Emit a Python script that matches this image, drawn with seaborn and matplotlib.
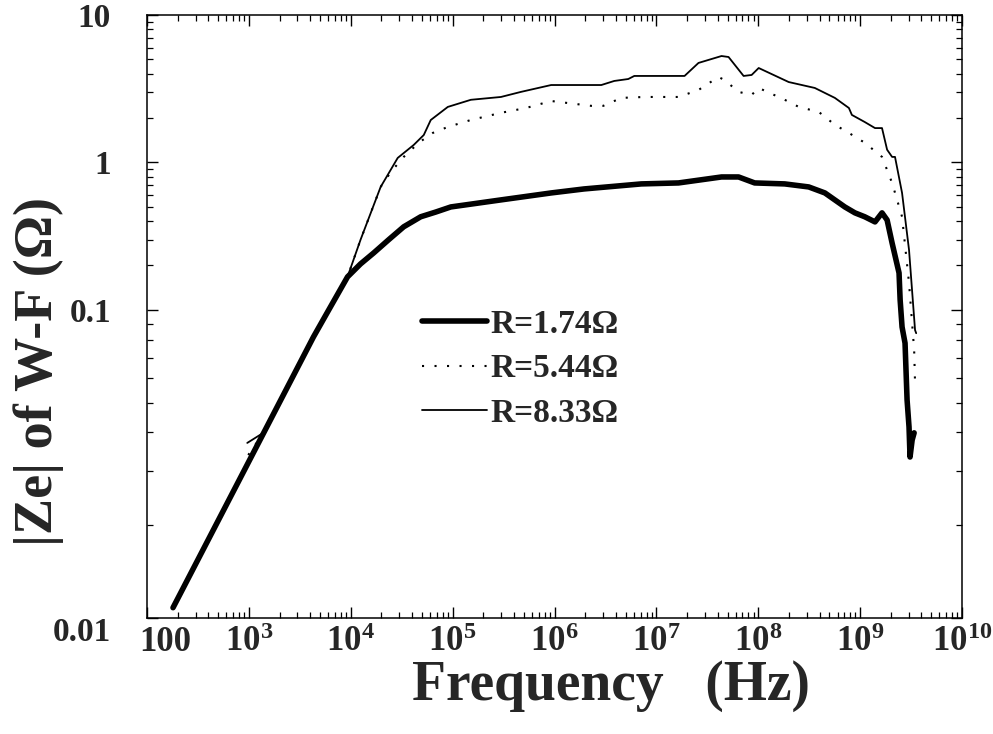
import numpy as np
import pandas as pd
import matplotlib
matplotlib.use("Agg")
import matplotlib.pyplot as plt
import matplotlib.ticker as mticker
import matplotlib.transforms as mtransforms
import seaborn as sns

# ---- data ----
freq_174 = [180, 4305, 6085, 9300, 12480, 16760, 23550, 33100, 48600, 68400, 96000, 2.98e5, 9.27e5,
            1.95e6, 7.11e6, 1.65e7, 4.36e7, 6.41e7, 9.22e7, 1.82e8, 3.13e8, 4.51e8, 7.08e8,
            8.89e8, 1.11e9, 1.40e9, 1.64e9, 1.84e9, 2.06e9, 2.41e9, 2.47e9, 2.58e9, 2.76e9,
            2.89e9, 3.02e9, 3.09e9, 3.24e9, 3.39e9]
z_174 = [0.0108, 0.0817, 0.1, 0.1675, 0.205, 0.243, 0.299, 0.366, 0.428, 0.461, 0.499, 0.557, 0.621,
         0.661, 0.715, 0.726, 0.797, 0.797, 0.726, 0.715, 0.682, 0.621, 0.499,
         0.455, 0.428, 0.395, 0.455, 0.407, 0.284, 0.178, 0.117, 0.088, 0.078,
         0.051, 0.0417, 0.0333, 0.0378, 0.0399]

freq_544 = [986, 1450, 4305, 6085, 9300, 12480, 19650, 24700, 33100, 46500,
            63800, 89700, 1.51e5, 2.98e5, 5.25e5, 9.27e5, 2.29e6, 3.01e6, 4.53e6, 7.62e6,
            1.65e7, 2.59e7, 4.07e7, 4.67e7, 6.41e7, 8.61e7, 1.01e8, 1.82e8, 2.50e8, 3.93e8,
            5.65e8, 7.76e8, 1.11e9, 1.64e9, 2.06e9, 2.58e9, 3.02e9, 3.39e9, 3.46e9]
z_544 = [0.0338, 0.0407, 0.0817, 0.1, 0.1675, 0.299, 0.682, 0.86, 1.09, 1.36,
         1.585, 1.74, 1.94, 2.17, 2.34, 2.61, 2.42, 2.42, 2.74, 2.78,
         2.78, 3.10, 3.80, 3.62, 3.01, 2.87, 3.20, 2.66, 2.38, 2.20,
         1.80, 1.585, 1.36, 1.09, 0.726, 0.428, 0.152, 0.0742, 0.058]

freq_833 = [964, 1387, 4305, 6085, 9300, 12480, 19650, 28900, 41500, 52100,
            61000, 89700, 1.51e5, 2.98e5, 4.69e5, 9.27e5, 2.88e6, 3.86e6, 5.30e6, 6.07e6,
            1.89e7, 2.59e7, 4.36e7, 5.11e7, 7.18e7, 8.61e7, 1.01e8, 1.99e8, 3.59e8, 5.65e8,
            7.76e8, 8.30e8, 1.11e9, 1.40e9, 1.64e9, 1.84e9, 2.06e9, 2.20e9, 2.58e9, 3.02e9,
            3.46e9, 3.55e9]
z_833 = [0.0370, 0.0399, 0.0817, 0.1, 0.1675, 0.299, 0.682, 1.073, 1.314, 1.535,
         1.94, 2.38, 2.66, 2.78, 3.01, 3.35, 3.35, 3.57, 3.68, 3.86,
         3.86, 4.73, 5.27, 5.19, 3.86, 3.92, 4.37, 3.51, 3.20, 2.74,
         2.34, 2.10, 1.88, 1.71, 1.71, 1.22, 1.09, 1.09, 0.621, 0.255,
         0.086, 0.084]

labels = ["R=1.74Ω", "R=5.44Ω", "R=8.33Ω"]
x_ticks = [1e2, 1e3, 1e4, 1e5, 1e6, 1e7, 1e8, 1e9, 1e10]
x_ticklabels = ["100", "$10^{3}$", "$10^{4}$", "$10^{5}$", "$10^{6}$",
                "$10^{7}$", "$10^{8}$", "$10^{9}$", "$10^{10}$"]
y_ticks = [0.01, 0.1, 1, 10]
y_ticklabels = ["0.01", "0.1", "1", "10"]

# ---- style ----
sns.set_theme(style="ticks")
plt.rcParams["font.family"] = ["Liberation Serif", "DejaVu Serif"]
plt.rcParams["font.weight"] = "bold"
plt.rcParams["mathtext.fontset"] = "custom"
plt.rcParams["mathtext.rm"] = "Liberation Serif:bold"
plt.rcParams["mathtext.it"] = "Liberation Serif:bold"
plt.rcParams["mathtext.bf"] = "Liberation Serif:bold"
plt.rcParams["mathtext.default"] = "rm"

fig = plt.figure(figsize=(9.93, 7.34), dpi=100)
ax = fig.add_axes([147 / 993, 1 - 618 / 734, 815 / 993, 603 / 734])

# y axis of the original: lowest decade drawn about twice as tall
K = 2.09


def fwd(y):
    t = np.log10(np.clip(np.asarray(y, dtype=float), 1e-300, None))
    return np.where(t >= -1, t, -1 + K * (t + 1))


def inv(u):
    u = np.asarray(u, dtype=float)
    return np.where(u >= -1, 10.0 ** u, 10.0 ** (-1 + (u + 1) / K))


df174 = pd.DataFrame({"f": freq_174, "z": z_174})
df544 = pd.DataFrame({"f": freq_544, "z": z_544})
df833 = pd.DataFrame({"f": freq_833, "z": z_833})

sns.lineplot(data=df544, x="f", y="z", ax=ax, color="black", lw=1.5,
             linestyle=(0, (1, 5)), sort=False, estimator=None, label=labels[1])
sns.lineplot(data=df833, x="f", y="z", ax=ax, color="black", lw=1.3,
             sort=False, estimator=None, label=labels[2])
sns.lineplot(data=df174, x="f", y="z", ax=ax, color="black", lw=4.0,
             sort=False, estimator=None, label=labels[0],
             solid_capstyle="round", solid_joinstyle="round")

ax.set_xscale("log")
ax.set_yscale("function", functions=(fwd, inv))
ax.set_xlim(1e2, 1e10)
ax.set_ylim(0.01, 10)

ax.xaxis.set_major_locator(mticker.FixedLocator(x_ticks))
ax.xaxis.set_major_formatter(mticker.FixedFormatter(x_ticklabels))
ax.xaxis.set_minor_locator(mticker.LogLocator(base=10, subs=np.arange(2, 10), numticks=50))
ax.xaxis.set_minor_formatter(mticker.NullFormatter())

minor_y = [k * 10.0 ** e for e in (-2, -1, 0) for k in range(2, 10)]
ax.yaxis.set_major_locator(mticker.FixedLocator(y_ticks))
ax.yaxis.set_major_formatter(mticker.FixedFormatter(y_ticklabels))
ax.yaxis.set_minor_locator(mticker.FixedLocator(minor_y))
ax.yaxis.set_minor_formatter(mticker.NullFormatter())

ax.tick_params(which="both", direction="in", top=True, right=True, color="black")
ax.tick_params(which="major", length=8, width=1.0)
ax.tick_params(which="minor", length=4, width=0.9)
ax.tick_params(axis="x", which="major", labelsize=25, pad=6)
ax.tick_params(axis="y", which="major", labelsize=24, pad=26)

for s in ax.spines.values():
    s.set_visible(True)
    s.set_color("black")
    s.set_linewidth(1.1)

ax.set_xlabel("Frequency   (Hz)", fontsize=40, fontweight="bold")
ax.set_ylabel("|Ze| of W-F (Ω)", fontsize=39, fontweight="bold")
ax.xaxis.set_label_coords((611 - 147) / 815, -(660 - 618) / 603)
ax.yaxis.set_label_coords((64 - 147) / 815, 1 - (372 - 15) / 603)

h, l = ax.get_legend_handles_labels()
order = [l.index(x) for x in labels]
leg = ax.legend([h[i] for i in order], [l[i] for i in order],
                loc="upper left", bbox_to_anchor=((422 - 147) / 815, 1 - (309 - 15) / 603),
                frameon=False, prop={"family": "Liberation Serif", "weight": "bold", "size": 24},
                handlelength=1.95, handletextpad=0.1, labelspacing=0.40, borderaxespad=0,
                borderpad=0)
ax.grid(False)

fig.canvas.draw()
# the original shifts "100" off the corner and "0.01" below it
xl = ax.xaxis.get_major_ticks()[0].label1
xl.set_transform(xl.get_transform() + mtransforms.ScaledTranslation(18 / 100, 0, fig.dpi_scale_trans))
yl = ax.yaxis.get_major_ticks()[0].label1
yl.set_transform(yl.get_transform() + mtransforms.ScaledTranslation(0, -11 / 100, fig.dpi_scale_trans))

fig.savefig("out.png", dpi=100, facecolor="white")
